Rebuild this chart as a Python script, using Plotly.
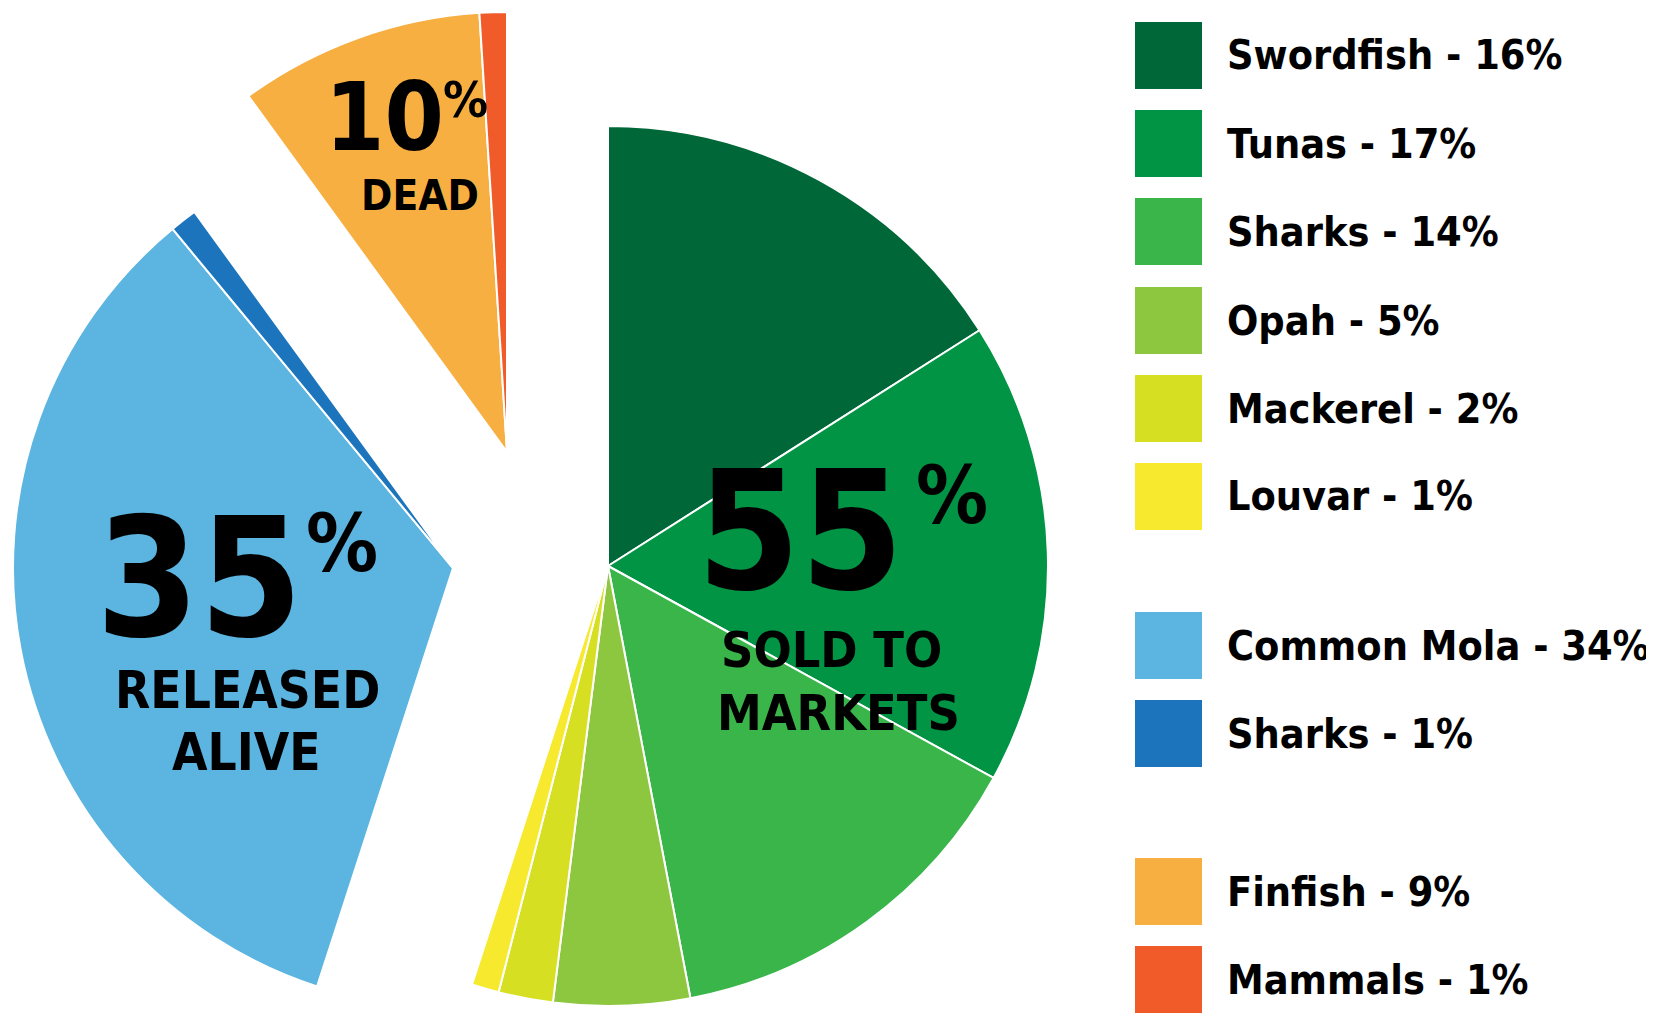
import plotly.graph_objects as go

# ---------------- data ----------------
legend_text = ["Swordfish - 16%", "Tunas - 17%", "Sharks - 14%", "Opah - 5%",
               "Mackerel - 2%", "Louvar - 1%", "Common Mola - 34%", "Sharks - 1%",
               "Finfish - 9%", "Mammals - 1%"]
species = ["Swordfish", "Tunas", "Sharks", "Opah", "Mackerel", "Louvar",
           "Common Mola", "Sharks", "Finfish", "Mammals"]
values = [16, 17, 14, 5, 2, 1, 34, 1, 9, 1]
group_of = ["sold", "sold", "sold", "sold", "sold", "sold",
            "released", "released", "dead", "dead"]
group_keys = ["sold", "released", "dead"]
group_totals = ["55", "35", "10"]
group_captions = [["SOLD TO", "MARKETS"], ["RELEASED", "ALIVE"], ["DEAD"]]
colors = ["#006838", "#009444", "#39b54a", "#8dc63f", "#d7df23", "#f6e92e",
          "#5bb5e0", "#1c75bc", "#f8af42", "#f15a29"]

# ---------------- layout constants (page pixels) ----------------
PAGE_W, PAGE_H = 1654, 1013
OFF = 8                      # default body margin of the page
W, H = PAGE_W - OFF, PAGE_H - OFF
R = 440
centers = {"sold": (608, 566), "released": (453, 568), "dead": (507, 452)}
FONT = "Liberation Sans Narrow, Arial Narrow, DejaVu Sans Condensed, sans-serif"


def px_x(x):
    return (x - OFF) / W


def px_y(y):
    return 1 - (y - OFF) / H


fig = go.Figure()
for g in group_keys:
    cx, cy = centers[g]
    fc = [c if gg == g else "rgba(0,0,0,0)" for c, gg in zip(colors, group_of)]
    lw = [2 if gg == g else 0 for gg in group_of]
    fig.add_trace(go.Pie(
        labels=legend_text, values=values, sort=False, direction="clockwise",
        rotation=0, textinfo="none", showlegend=False,
        marker=dict(colors=fc, line=dict(color="white", width=lw)),
        domain=dict(x=[px_x(cx - R), px_x(cx + R)],
                    y=[px_y(cy + R), px_y(cy - R)]),
        hovertemplate="%{label}<extra></extra>",
    ))

annotations = []
shapes = []


def txt(s, x, y, size, xanchor="center"):
    annotations.append(dict(
        text=s, x=px_x(x), y=px_y(y), xref="paper", yref="paper",
        xanchor=xanchor, yanchor="middle", showarrow=False,
        font=dict(family=FONT, size=size, color="#000000", weight="bold")))


# big group labels
big = {
    "sold": dict(num=(800, 532, 165), pct=(952, 495, 80),
                 cap=[(831, 650, 50), (838, 713, 50)]),
    "released": dict(num=(199, 579, 165), pct=(342, 543, 80),
                     cap=[(247, 690, 51), (246, 752, 51)]),
    "dead": dict(num=(384, 117, 95), pct=(465, 100, 50),
                 cap=[(420, 196, 42)]),
}
for g, tot, caps in zip(group_keys, group_totals, group_captions):
    b = big[g]
    txt(tot, *b["num"])
    txt("%", *b["pct"])
    for line, (x, y, s) in zip(caps, b["cap"]):
        txt(line, x, y, s)

# custom legend
row_tops = [22, 110, 198, 287, 375, 463, 612, 700, 858, 946]
SQ = 67
SQ_X = 1135
for lt, col, top in zip(legend_text, colors, row_tops):
    shapes.append(dict(type="rect", xref="paper", yref="paper",
                       x0=px_x(SQ_X), x1=px_x(SQ_X + SQ),
                       y0=px_y(top + SQ), y1=px_y(top),
                       fillcolor=col, line=dict(width=0)))
    txt(lt, 1225, top + SQ / 2, 41, xanchor="left")

fig.update_layout(
    width=W, height=H, margin=dict(l=0, r=0, t=0, b=0),
    paper_bgcolor="white", plot_bgcolor="white",
    annotations=annotations, shapes=shapes,
)

fig.write_html("out.html")
